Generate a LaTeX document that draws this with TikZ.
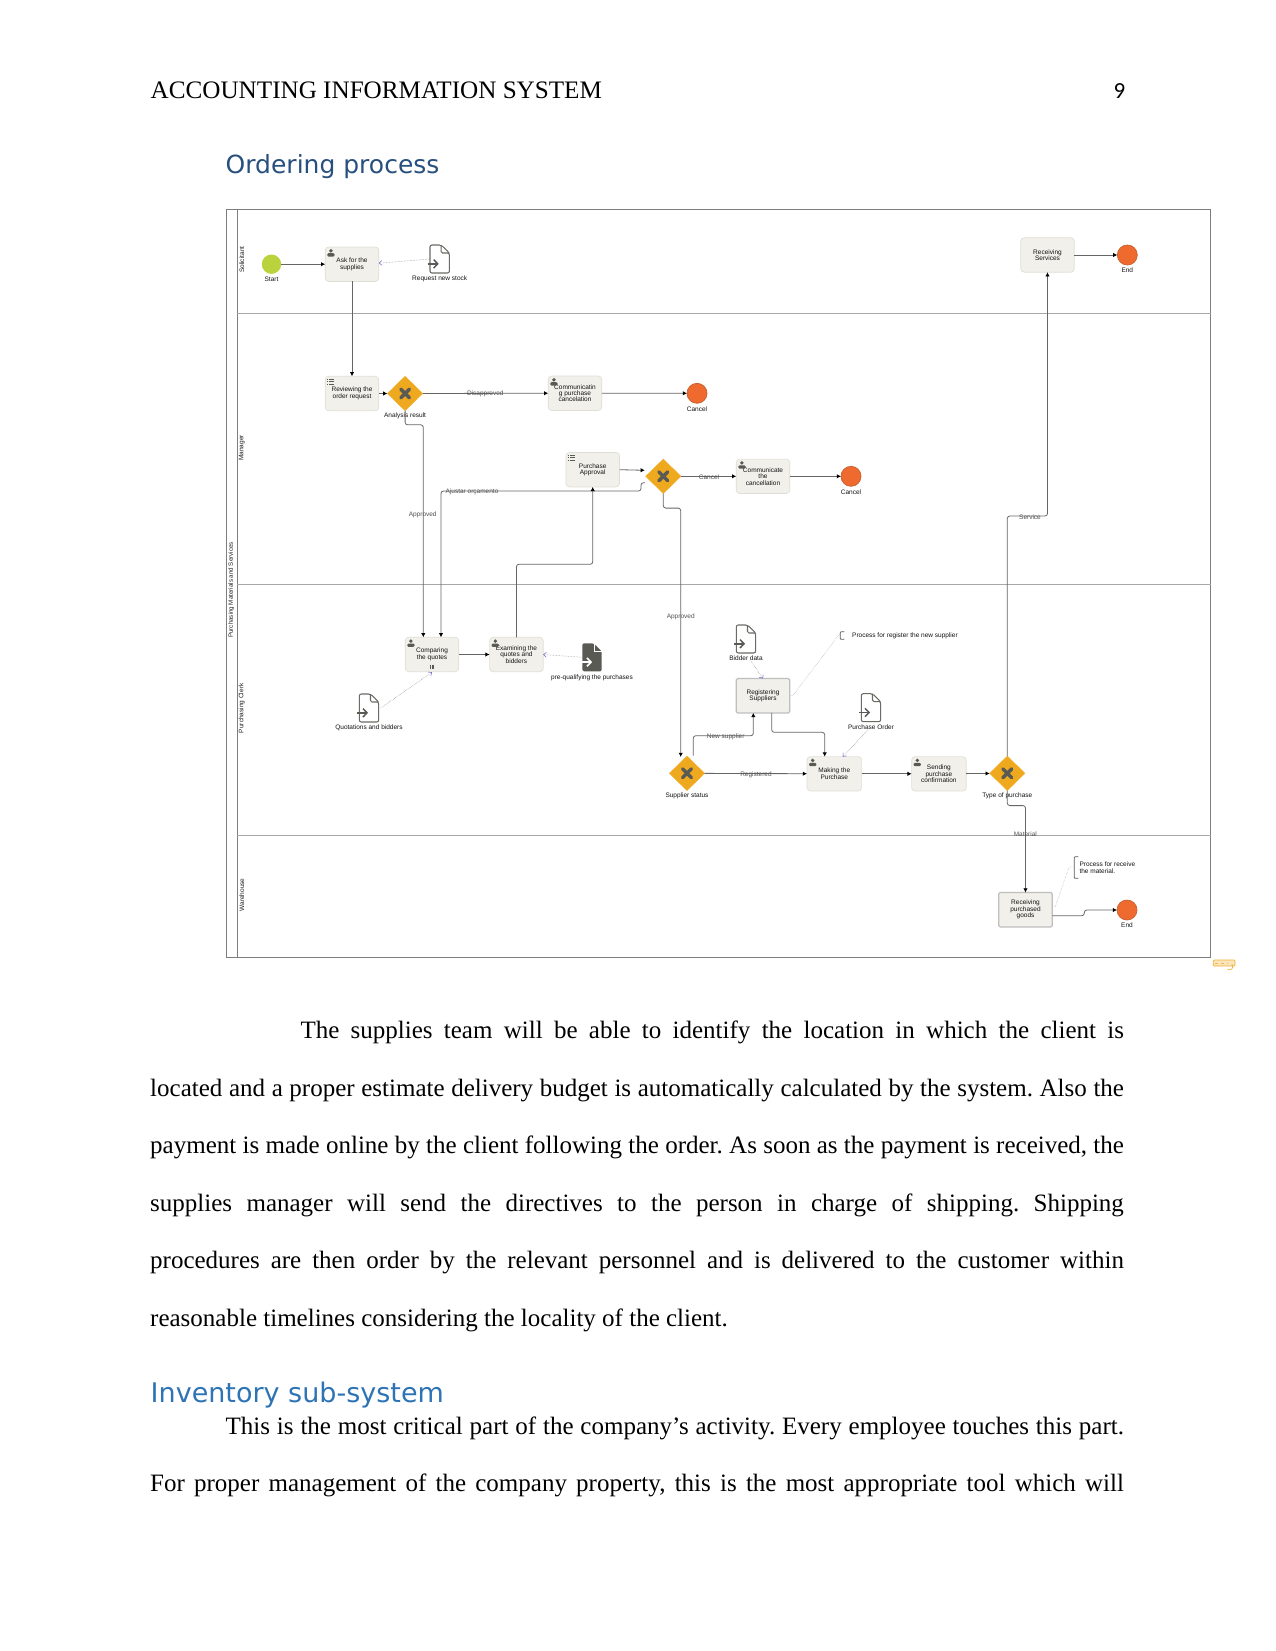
\documentclass[tikz,border=0pt]{standalone}
\usepackage{xcolor}
\usepackage{fontspec}
\usetikzlibrary{arrows.meta, positioning, shapes.geometric}
\setmainfont{Liberation Serif}
\newfontfamily\chartfont{Liberation Sans}
\newfontfamily\headfont{DejaVu Sans}
\newfontfamily\numfont{Carlito}
\definecolor{flowink}{HTML}{666666}
\definecolor{laneink}{HTML}{A8A8A8}
\definecolor{frameink}{HTML}{7E7E7E}
\definecolor{taskfill}{HTML}{F1F0EA}
\definecolor{taskedge}{HTML}{E0DFD6}
\definecolor{goldfill}{HTML}{EFA91F}
\definecolor{iconink}{HTML}{5A5A55}
\definecolor{startfill}{HTML}{BAD23C}
\definecolor{endfill}{HTML}{EF6A2E}
\definecolor{endedge}{HTML}{C8602E}
\definecolor{assocink}{HTML}{6F62C8}
\definecolor{headdark}{HTML}{27507F}
\definecolor{headblue}{HTML}{2E74B5}
\frenchspacing

\begin{document}
\begin{tikzpicture}[
        x=1pt, y=-1pt,
        node distance=10pt,
        task/.style={
            rectangle,
            rounded corners=3.5pt,
            draw=taskedge,
            line width=0.7pt,
            fill=taskfill,
            align=center,
            font=\chartfont\fontsize{6.5}{6.4}\selectfont,
            text=black!92,
            inner sep=0pt,
            outer sep=0pt,
            minimum width=53.6pt,
            minimum height=34.4pt
        },
        calltask/.style={
            task,
            rounded corners=1.5pt,
            draw=black!25,
            line width=1.2pt
        },
        gate/.style={
            diamond,
            aspect=1,
            fill=goldfill,
            draw=goldfill!90!white,
            line width=0.3pt,
            inner sep=0pt,
            outer sep=0pt,
            minimum width=35.4pt,
            minimum height=34.6pt
        },
        startev/.style={circle, fill=startfill, inner sep=0pt, outer sep=0pt, minimum size=19.4pt},
        endev/.style={circle, fill=endfill, draw=endedge, line width=0.7pt, inner sep=0pt, outer sep=0pt, minimum size=20pt},
        docbox/.style={rectangle, inner sep=0pt, outer sep=0pt, minimum width=19.4pt, minimum height=28pt},
        txt/.style={font=\chartfont\fontsize{6.5}{6.4}\selectfont, text=black!92, inner sep=0pt, align=left},
        flowtxt/.style={font=\chartfont\fontsize{6.5}{6.4}\selectfont, text=black!68, inner sep=0pt, yshift=-1.3pt},
        lanetxt/.style={font=\chartfont\fontsize{6.5}{6.4}\selectfont, text=black!88, inner sep=0pt, rotate=90},
        pagetxt/.style={font=\fontsize{25}{30}\selectfont, anchor=base west, inner sep=0pt},
        flow/.style={-{Latex[length=4.2pt,width=4.4pt,black]}, line width=0.8pt, draw=flowink, rounded corners=2.5pt},
        assoc/.style={-{Straight Barb[length=2.8pt,width=4.8pt,assocink]}, line width=0.5pt, draw=black!45, densely dotted},
        noteline/.style={line width=0.4pt, draw=black!42, densely dotted},
        bracket/.style={line width=0.8pt, draw=iconink, rounded corners=0.8pt},
        crossmark/.style={line width=3.4pt, draw=iconink, line cap=round},
        usermark/.pic={
            \fill[iconink] (0,-2.2) circle (1.9);
            \fill[iconink, rounded corners=1.2pt] (-3.6,3.6) -- (-3.6,0.2) -- (3.6,0.2) -- (3.6,3.6) -- cycle;
        },
        listmark/.pic={
            \foreach \r in {-2.4,0,2.4} {
                \draw[iconink, line width=0.8pt] (-3.4,\r) -- (-2.2,\r);
                \draw[iconink, line width=0.8pt] (-1.2,\r) -- (3.4,\r);
            }
        },
        docmark/.pic={
            \draw[iconink!90!white, line width=1.05pt, rounded corners=2pt] (1.5,-14) -- (-9.7,-14) -- (-9.7,14) -- (9.7,14) -- (9.7,-6) -- cycle;
            \draw[iconink!90!white, line width=1.05pt, rounded corners=1.5pt] (1.5,-14) -- (1.5,-6) -- (9.7,-6);
            \draw[iconink, line width=1.5pt] (-11.8,4.8) -- (-3,4.8);
            \draw[iconink, line width=1.5pt] (-6,0.6) -- (-2,4.8) -- (-6,9);
        },
        docfilled/.pic={
            \fill[iconink, rounded corners=1.5pt] (1.5,-14) -- (-9.7,-14) -- (-9.7,14) -- (9.7,14) -- (9.7,-6) -- cycle;
            \draw[white, line width=0.9pt] (2,-14) -- (2,-6) -- (9.7,-6);
            \draw[white, line width=1.6pt] (-9.7,4.8) -- (-2,4.8);
            \draw[white, line width=1.6pt] (-5,0.6) -- (-1,4.8) -- (-5,9);
        }
    ]
        \useasboundingbox (0,0) rectangle (1275,1651);
        \fill[white] (0,0) rectangle (1275,1651);

        \node[pagetxt, font=\fontsize{25.15}{30}\selectfont] (runhead) at (150.5,99) {ACCOUNTING INFORMATION SYSTEM};
        \node[font=\numfont\fontsize{23}{28}\selectfont, anchor=base east, inner sep=0pt] (pagenum) at (1125.5,99) {9};
        \node[font=\headfont\fontsize{25}{30}\selectfont, anchor=base west, inner sep=0pt, text=headdark] (ordertitle) at (225.5,173.5) {Ordering process};

        \draw[frameink, line width=0.9pt] (226.3,209) rectangle (1210.7,957);
        \draw[frameink, line width=0.9pt] (237.3,209) -- (237.3,957);
        \draw[laneink, line width=0.7pt] (237.3,313.3) -- (1210.7,313.3);
        \draw[laneink, line width=0.7pt] (237.3,584.3) -- (1210.7,584.3);
        \draw[laneink, line width=0.7pt] (237.3,835.3) -- (1210.7,835.3);

        \node[lanetxt, font=\chartfont\fontsize{6.2}{6.4}\selectfont] (outerlane) at (231.3,590) {Purchasing Materials and Services};
        \node[lanetxt] (solicitlane) at (241.8,259.7) {Solicitant};
        \node[lanetxt] (managerlane) at (241.8,448) {Manager};
        \node[lanetxt] (clerklane) at (241.8,708.3) {Purchasing Clerk};
        \node[lanetxt] (storelane) at (241.8,895) {Warehouse};

        \node[task] (ask) at (352,264.2) {Ask for the\\supplies};
        \node[startev, left=44pt of ask] (start) {};
        \node[txt, below=3.2pt of start] (starttxt) {Start};
        \node[docbox] (stock) at (439.7,259) {};
        \node[txt, below=3pt of stock] (stocktxt) {Request new stock};

        \node[task] (review) at (352,393.5) {Reviewing the\\order request};
        \node[gate, right=8.6pt of review] (resultgate) {};
        \node[txt, below=1.7pt of resultgate] (resulttxt) {Analysis result};
        \node[task] (cancelcomm) at (575,393.2) {Communicatin\\g purchase\\cancelation};
        \node[endev] (cancela) at (697,393.3) {};
        \node[txt, below=3pt of cancela] (cancelatxt) {Cancel};

        \node[task] (approval) at (592.7,469.7) {Purchase\\Approval};
        \node[gate] (approvegate) at (663.3,476.3) {};
        \node[task] (cancelnote) at (763,476.3) {Communicate\\the\\cancellation};
        \node[endev] (cancelb) at (851,476.3) {};
        \node[txt, below=3pt of cancelb] (cancelbtxt) {Cancel};

        \node[task] (compare) at (432,654.5) {Comparing\\the quotes};
        \node[task, right=30.8pt of compare] (examine) {Examining the\\quotes and\\bidders};
        \node[docbox] (prequal) at (592,657.3) {};
        \node[txt, below=3pt of prequal] (prequaltxt) {pre-qualifying the purchases};
        \node[docbox] (quotes) at (369,708) {};
        \node[txt, below=3pt of quotes] (quotestxt) {Quotations and bidders};

        \node[docbox] (bidder) at (746,639) {};
        \node[txt, below=3pt of bidder] (biddertxt) {Bidder data};
        \node[calltask] (register) at (763,695.7) {Registering\\Suppliers};
        \node[txt, anchor=west] (supnote) at (852,636) {Process for register the new supplier};
        \node[docbox] (porder) at (871,707.7) {};
        \node[txt, below=3pt of porder] (pordertxt) {Purchase Order};

        \node[gate] (supgate) at (687,773.3) {};
        \node[txt, below=1.7pt of supgate] (suptxt) {Supplier status};
        \node[task, minimum width=54.6pt] (purchase) at (834.3,773.8) {Making the\\Purchase};
        \node[task, minimum width=54.6pt, right=50pt of purchase] (confirm) {Sending\\purchase\\confirmation};
        \node[gate] (typegate) at (1007.3,773.3) {};
        \node[txt, below=1.7pt of typegate] (typetxt) {Type of purchase};

        \node[calltask] (goods) at (1025.5,909.7) {Receiving\\purchased\\goods};
        \node[txt, anchor=west] (goodsnote) at (1079.3,867.5) {Process for receive\\the material.};
        \node[endev] (endb) at (1127,910) {};
        \node[txt, below=3pt of endb] (endbtxt) {End};

        \node[task] (services) at (1047.5,255) {Receiving\\Services};
        \node[endev] (enda) at (1127.3,255) {};
        \node[txt, below=3pt of enda] (endatxt) {End};

        \pic at (stock) {docmark};
        \pic at (quotes) {docmark};
        \pic at (bidder) {docmark};
        \pic at (porder) {docmark};
        \pic at (prequal) {docfilled};
        \foreach \t in {ask,cancelcomm,cancelnote,compare,examine,purchase,confirm}
            \pic at ([shift={(5.7,6)}]\t.north west) {usermark};
        \foreach \t in {review,approval}
            \pic at ([shift={(5.4,5.3)}]\t.north west) {listmark};
        \foreach \g in {resultgate,approvegate,supgate,typegate} {
            \draw[crossmark] ([shift={(-4.4,-4.4)}]\g.center) -- ([shift={(4.4,4.4)}]\g.center);
            \draw[crossmark] ([shift={(-4.4,4.4)}]\g.center) -- ([shift={(4.4,-4.4)}]\g.center);
        }
        \foreach \m in {-1.6,0,1.6}
            \draw[iconink, line width=0.7pt] ([shift={(\m,-7)}]compare.south) -- ([shift={(\m,-3.2)}]compare.south);

        \coordinate (approvein) at (644.8,470.3);
        \coordinate (adjustout) at (645,482.7);
        \coordinate (supout) at (693.3,755.7);
        \coordinate (adjustknee) at (641,491);

        \draw[flow] (start) -- (ask);
        \draw[flow] (ask) -- (review);
        \draw[flow] (review) -- (resultgate);
        \draw[flow] (resultgate) -- (cancelcomm);
        \draw[flow] (cancelcomm) -- (cancela);
        \draw[flow] (resultgate.south) -- ++(0,14) -| ([xshift=-8.7pt]compare.north);
        \draw[flow] (adjustout) -| (adjustknee) -| ([xshift=9pt]compare.north);
        \draw[flow] (examine.north) |- (592.7,564.3) -- (approval.south);
        \draw[flow] (approval.east) -- (approvein);
        \draw[flow] (approvegate) -- (cancelnote);
        \draw[flow] (cancelnote) -- (cancelb);
        \draw[flow] (approvegate.south) -- ++(0,14.5) -| ([xshift=-6.3pt,yshift=-1pt]supgate.north);
        \draw[flow] (compare) -- (examine);
        \draw[flow] (supout) |- (725,735.7) -| ([xshift=-9.7pt]register.south);
        \draw[flow] ([xshift=8.7pt]register.south) |- (800,732.3) -| ([xshift=-9.6pt]purchase.north);
        \draw[flow] (supgate) -- (purchase);
        \draw[flow] (purchase) -- (confirm);
        \draw[flow] (confirm) -- (typegate);
        \draw[flow] (typegate.north) |- (1030,516) -| (services.south);
        \draw[flow] (services) -- (enda);
        \draw[flow] (typegate.south) -- ++(0,15) -| (goods.north);
        \draw[flow] ([yshift=-6pt]goods.east) -| (1084.3,910) -- (endb.west);

        \draw[assoc] (stock.west) -- ([yshift=1pt]ask.east);
        \draw[assoc] (prequal.west) -- (examine.east);
        \draw[assoc] ([xshift=2pt]quotes.east) -- ([yshift=-0.5pt]compare.south);
        \draw[assoc] (biddertxt.south) ++(5pt,0pt) -- (register.north);
        \draw[assoc] ([xshift=-3pt]pordertxt.south) -- ([xshift=8.4pt]purchase.north);

        \draw[bracket] (844.3,631.7) -- (840.3,631.7) -- (840.3,639.3) -- (844.3,639.3);
        \draw[bracket] (1078.3,856.7) -- (1074.3,856.7) -- (1074.3,878.3) -- (1078.3,878.3);
        \draw[noteline] (register.east) -- ++(3,0) -- (839.5,634);
        \draw[noteline] ([yshift=3pt]goods.east) -- ++(3,0) -- (1069,867) -- (1073.5,867);

        \node[flowtxt] (disapprovedtxt) at (485.3,392.7) {Disapproved};
        \node[flowtxt] (approvedtxt) at (422.7,513.3) {Approved};
        \node[flowtxt] (adjusttxt) at (472,490.7) {Ajustar orçamento};
        \node[flowtxt] (cancelflowtxt) at (709,475.7) {Cancel};
        \node[flowtxt] (approvedbtxt) at (680.7,615.7) {Approved};
        \node[flowtxt] (newsuptxt) at (725.7,736) {New supplier};
        \node[flowtxt] (registeredtxt) at (756,773.3) {Registered};
        \node[flowtxt] (servicetxt) at (1030,516) {Service};
        \node[flowtxt] (materialtxt) at (1025.3,832.7) {Material};

        \fill[goldfill!30, rounded corners=0.8pt] (1213.3,960) rectangle (1235,966);
        \draw[goldfill!90, line width=0.7pt, rounded corners=0.8pt] (1213.3,960) rectangle (1235,966);
        \draw[goldfill!90, line width=0.7pt] (1232,964) .. controls (1234,969) and (1231,970.5) .. (1227.5,969.5);
        \draw[goldfill!80, line width=0.7pt, dashed] (1215,963) -- (1228,963);

        \node[pagetxt] (parafirst) at (300.3,1038.3) {\makebox[823.4pt][s]{The supplies team will be able to identify the location in which the client is}};
        \node[pagetxt] (parasecond) at (150,1096) {\makebox[973.7pt][s]{located and a proper estimate delivery budget is automatically calculated by the system. Also the}};
        \node[pagetxt] (parathird) at (150,1153.3) {\makebox[973.7pt][s]{payment is made online by the client following the order. As soon as the payment is received, the}};
        \node[pagetxt] (parafourth) at (150,1211.5) {\makebox[973.7pt][s]{supplies manager will send the directives to the person in charge of shipping. Shipping}};
        \node[pagetxt] (parafifth) at (150,1268) {\makebox[973.7pt][s]{procedures are then order by the relevant personnel and is delivered to the customer within}};
        \node[pagetxt] (parasixth) at (150,1326) {reasonable timelines considering the locality of the client.};

        \node[font=\headfont\fontsize{27}{30}\selectfont, anchor=base west, inner sep=0pt, text=headblue] (invtitle) at (150.5,1402.7) {Inventory sub-system};
        \node[pagetxt] (invfirst) at (225.5,1434) {\makebox[898.2pt][s]{This is the most critical part of the company’s activity. Every employee touches this part.}};
        \node[pagetxt] (invsecond) at (150,1491.7) {\makebox[973.7pt][s]{For proper management of the company property, this is the most appropriate tool which will}};
    \end{tikzpicture}
\end{document}
